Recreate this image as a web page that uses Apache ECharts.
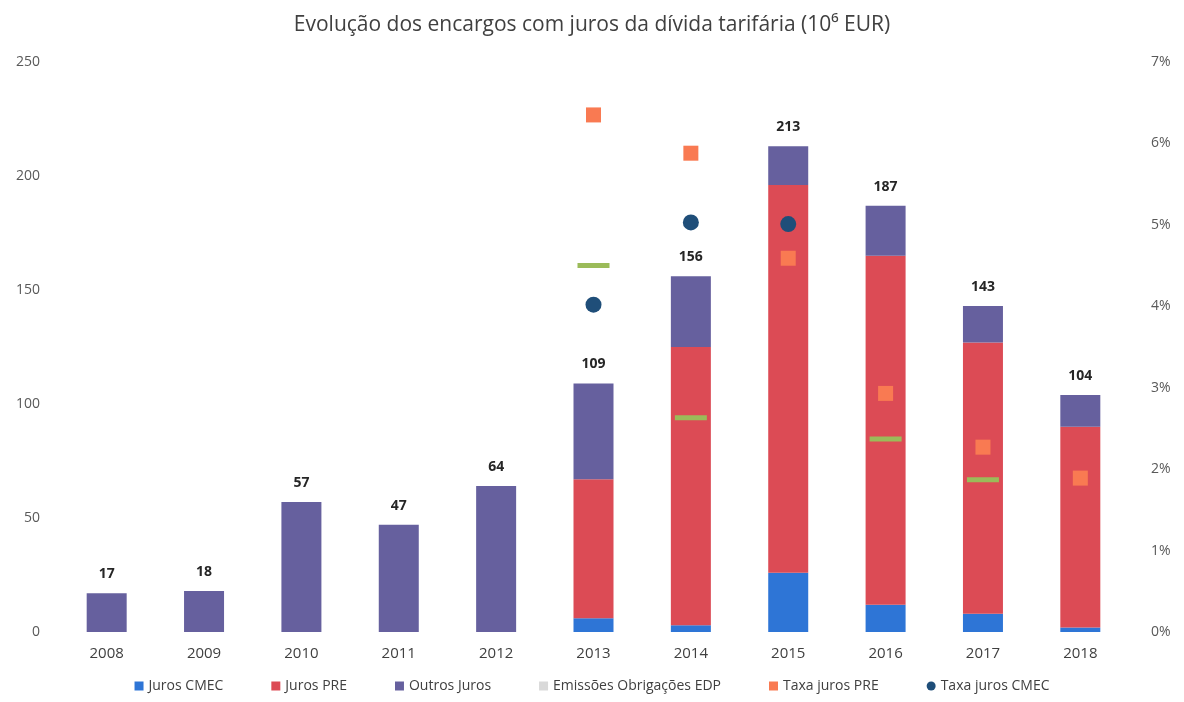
<!DOCTYPE html>
<html>
<head>
<meta charset="utf-8">
<script src="https://cdn.jsdelivr.net/npm/echarts@6/dist/echarts.min.js"></script>
<style>
  html, body { margin: 0; padding: 0; background: #fff; }
  #main { width: 1184px; height: 702px; }
</style>
</head>
<body>
<div id="main"></div>
<script>
// dados
const years = ['2008', '2009', '2010', '2011', '2012', '2013', '2014', '2015', '2016', '2017', '2018'];
const jurosCMEC = [0, 0, 0, 0, 0, 6, 3, 26, 12, 8, 2];
const jurosPRE = [0, 0, 0, 0, 0, 61, 122, 170, 153, 119, 88];
const outrosJuros = [17, 18, 57, 47, 64, 42, 31, 17, 22, 16, 14];
const emissoesEDP = [null, null, null, null, null, 4.5, 2.63, null, 2.37, 1.87, null];
const taxaPRE = [null, null, null, null, null, 6.35, 5.88, 4.59, 2.93, 2.27, 1.89];
const taxaCMEC = [null, null, null, null, null, 4.02, 5.03, 5.01, null, null, null];
const leftTicks = [0, 50, 100, 150, 200, 250];

const totals = years.map((y, i) => jurosCMEC[i] + jurosPRE[i] + outrosJuros[i]);

const font = '"Liberation Sans Narrow", "Open Sans", sans-serif';
let chart = echarts.init(document.getElementById('main'));

let option = {
  textStyle: { fontFamily: font },
  title: {
    text: 'Evolução dos encargos com juros da dívida tarifária (10⁶ EUR)',
    left: 'center',
    top: 10,
    textStyle: { fontFamily: font, fontSize: 21, fontWeight: 'normal', color: '#404040' }
  },
  grid: { left: 58, right: 55, top: 62, bottom: 70 },
  legend: {
    bottom: 4,
    left: 'center',
    itemWidth: 9,
    itemHeight: 9,
    itemGap: 48,
    textStyle: { fontFamily: font, fontSize: 14, color: '#404040' },
    data: [
      { name: 'Juros CMEC', icon: 'rect' },
      { name: 'Juros PRE', icon: 'rect' },
      { name: 'Outros Juros', icon: 'rect' },
      { name: 'Emissões Obrigações EDP', icon: 'rect', itemStyle: { color: '#d9d9d9' } },
      { name: 'Taxa juros PRE', icon: 'rect' },
      { name: 'Taxa juros CMEC', icon: 'circle' }
    ]
  },
  xAxis: {
    type: 'category',
    data: years,
    axisLine: { show: false },
    axisTick: { show: false },
    axisLabel: { fontSize: 15, color: '#404040', margin: 14 }
  },
  yAxis: [
    {
      type: 'value',
      min: leftTicks[0],
      max: leftTicks[leftTicks.length - 1],
      interval: 50,
      splitLine: { show: false },
      axisLine: { show: false },
      axisLabel: { fontSize: 14, color: '#595959', margin: 18 }
    },
    {
      type: 'value',
      min: 0,
      max: 7,
      interval: 1,
      splitLine: { show: false },
      axisLine: { show: false },
      axisLabel: { fontSize: 14, color: '#595959', margin: 22, formatter: v => v + '%' }
    }
  ],
  series: [
    {
      name: 'Juros CMEC', type: 'bar', stack: 'total', barWidth: 40,
      itemStyle: { color: '#2e75d6' },
      data: jurosCMEC
    },
    {
      name: 'Juros PRE', type: 'bar', stack: 'total', barWidth: 40,
      itemStyle: { color: '#dc4b55' },
      data: jurosPRE
    },
    {
      name: 'Outros Juros', type: 'bar', stack: 'total', barWidth: 40,
      itemStyle: { color: '#66609e' },
      label: {
        show: true, position: 'top', distance: 12,
        fontSize: 14, fontWeight: 'bold', color: '#262626',
        formatter: p => totals[p.dataIndex]
      },
      data: outrosJuros
    },
    {
      name: 'Emissões Obrigações EDP', type: 'scatter', yAxisIndex: 1,
      symbol: 'rect', symbolSize: [32, 5],
      itemStyle: { color: '#9bbb59', opacity: 1 },
      z: 5,
      data: emissoesEDP
    },
    {
      name: 'Taxa juros PRE', type: 'scatter', yAxisIndex: 1,
      symbol: 'rect', symbolSize: 15,
      itemStyle: { color: '#f97a52', opacity: 1 },
      z: 5,
      data: taxaPRE
    },
    {
      name: 'Taxa juros CMEC', type: 'scatter', yAxisIndex: 1,
      symbol: 'circle', symbolSize: 16,
      itemStyle: { color: '#1f4e79', opacity: 1 },
      z: 5,
      data: taxaCMEC
    }
  ]
};

chart.setOption(option);
</script>
</body>
</html>
